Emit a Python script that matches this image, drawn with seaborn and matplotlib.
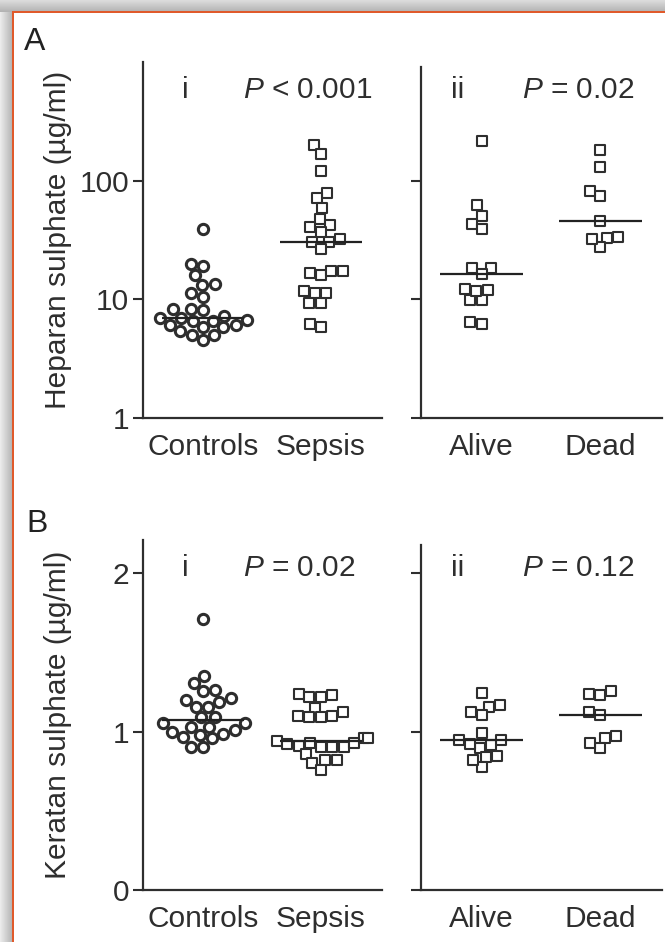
import numpy as np
import pandas as pd
import matplotlib
matplotlib.use("Agg")
import matplotlib.pyplot as plt
import seaborn as sns
from matplotlib.patches import Rectangle
from matplotlib.ticker import NullLocator

# ---------------- data ----------------
groups_i = ["Controls", "Sepsis"]
groups_ii = ["Alive", "Dead"]

hs_controls = [39, 19, 19.7, 15.9, 13.2, 13.4, 10.5, 11.2, 8.3, 8.1, 8.3, 6.7,
               7.3, 6.6, 6.1, 5.8, 5.8, 6.1, 5.0, 5.0, 5.4, 4.5, 6.6, 6.9, 7.0]
hs_sepsis = [199, 169, 121, 78.7, 70.8, 58.7, 47.7, 42.4, 40.5, 37.2, 32.2, 30.2,
             30.5, 26.5, 17.4, 16.0, 16.8, 17.2, 11.3, 9.4, 9.4, 11.3, 11.7, 5.9, 6.2]
hs_alive = [214, 61.8, 50.8, 43.2, 39, 18.4, 18.4, 16.5, 11.9, 9.8, 9.8, 11.8,
            12.2, 6.2, 6.4]
hs_dead = [183, 130.6, 74, 82, 45.8, 32.9, 27.7, 32.2, 33.7]

ks_controls = [1.71, 1.31, 1.354, 1.262, 1.258, 1.186, 1.213, 1.199, 1.153, 1.157,
               1.093, 1.09, 1.052, 1.027, 1.03, 1.052, 0.984, 0.957, 1.009, 0.978,
               0.963, 0.904, 0.904, 1.0]
ks_sepsis = [1.24, 1.22, 1.22, 1.23, 1.10, 1.125, 1.15, 1.09, 1.09, 1.10, 0.94,
             0.91, 0.96, 0.905, 0.905, 0.93, 0.905, 0.96, 0.92, 0.82, 0.86, 0.80,
             0.82, 0.757, 0.93]
ks_alive = [1.247, 1.157, 1.104, 1.125, 1.171, 0.992, 0.946, 0.915, 0.946, 0.894,
            0.925, 0.837, 0.774, 0.82, 0.845]
ks_dead = [1.258, 1.235, 1.23, 1.125, 1.104, 0.957, 0.894, 0.929, 0.972]

p_values = {"Ai": "< 0.001", "Aii": "= 0.02", "Bi": "= 0.02", "Bii": "= 0.12"}
hs_ticks = [1, 10, 100]
ks_ticks = [0, 1, 2]

# ---------------- style ----------------
sns.set_theme(style="ticks")
plt.rcParams["font.family"] = ["Liberation Sans", "DejaVu Sans"]
plt.rcParams["mathtext.fontset"] = "custom"
plt.rcParams["mathtext.it"] = "Liberation Sans:italic"
plt.rcParams["mathtext.rm"] = "Liberation Sans"

INK = "#2e2e2e"
FS = 21.5
W, H = 665, 942

fig = plt.figure(figsize=(W / 100, H / 100), dpi=100)
fig.patch.set_facecolor("white")


def add_ax(l, t, r, b):
    return fig.add_axes([l / W, 1 - b / H, (r - l) / W, (b - t) / H])


axAi = add_ax(143, 62, 382, 418)
axAii = add_ax(421, 62, 662, 418)
axBi = add_ax(143, 540, 382, 890)
axBii = add_ax(421, 540, 662, 890)

LAYOUT_SIZE = 6.3


def swarm(ax, vals, cat, order, marker, lw):
    df = pd.DataFrame({"group": [cat] * len(vals), "value": vals})
    sns.swarmplot(data=df, x="group", y="value", order=order, ax=ax,
                  marker=marker, size=LAYOUT_SIZE, color="white",
                  edgecolor=INK, linewidth=lw)


def medians(ax, data_by_group, order):
    for i, g in enumerate(order):
        m = float(np.median(data_by_group[g]))
        ax.hlines(m, i - 0.35, i + 0.35, color="#222222", lw=1.6, zorder=5)


for ax in (axAi, axAii):
    ax.set_yscale("log")

swarm(axAi, hs_controls, "Controls", groups_i, "o", 2.2)
swarm(axAi, hs_sepsis, "Sepsis", groups_i, "s", 1.5)
swarm(axAii, hs_alive, "Alive", groups_ii, "s", 1.5)
swarm(axAii, hs_dead, "Dead", groups_ii, "s", 1.5)
swarm(axBi, ks_controls, "Controls", groups_i, "o", 2.2)
swarm(axBi, ks_sepsis, "Sepsis", groups_i, "s", 1.5)
swarm(axBii, ks_alive, "Alive", groups_ii, "s", 1.5)
swarm(axBii, ks_dead, "Dead", groups_ii, "s", 1.5)

medians(axAi, {"Controls": hs_controls, "Sepsis": hs_sepsis}, groups_i)
medians(axAii, {"Alive": hs_alive, "Dead": hs_dead}, groups_ii)
medians(axBi, {"Controls": ks_controls, "Sepsis": ks_sepsis}, groups_i)
medians(axBii, {"Alive": ks_alive, "Dead": ks_dead}, groups_ii)

for ax in (axAi, axAii):
    ax.set_ylim(1, 1000)
    ax.set_yticks(hs_ticks)
    ax.yaxis.set_minor_locator(NullLocator())
for ax in (axBi, axBii):
    ax.set_ylim(0, 2.21)
    ax.set_yticks(ks_ticks)

axAi.set_yticklabels([str(t) for t in hs_ticks])
axBi.set_yticklabels([str(t) for t in ks_ticks])
axAii.set_yticklabels([])
axBii.set_yticklabels([])
axAii.spines["left"].set_bounds(1, 900)
axBii.spines["left"].set_bounds(0, 2.18)

for ax in (axAi, axAii, axBi, axBii):
    ax.set_xlim(-0.51, 1.52)
    ax.set_xlabel("")
    ax.set_ylabel("")
    ax.set_facecolor("none")
    for s in ("top", "right"):
        ax.spines[s].set_visible(False)
    for s in ("left", "bottom"):
        ax.spines[s].set_color(INK)
        ax.spines[s].set_linewidth(1.6)
    ax.tick_params(axis="y", direction="out", length=7, width=1.5, color=INK,
                   labelsize=FS, labelcolor=INK, pad=3)
    ax.tick_params(axis="x", length=0, labelsize=FS, labelcolor=INK, pad=11)

# panel annotations
for ax, num, key in ((axAi, "i", "Ai"), (axAii, "ii", "Aii"),
                     (axBi, "i", "Bi"), (axBii, "ii", "Bii")):
    x0 = 0.176 if num == "i" else 0.154
    xp = 0.418 if num == "i" else 0.419
    ax.text(x0, 0.921, num, transform=ax.transAxes, ha="center", va="center",
            fontsize=FS, color=INK)
    ax.text(xp, 0.921, r"$\mathit{P}$ " + p_values[key], transform=ax.transAxes,
            ha="left", va="center", fontsize=FS, color=INK)

fig.text(58 / W, 1 - 240 / H, "Heparan sulphate (µg/ml)", rotation=90,
         ha="center", va="center", fontsize=FS, color=INK)
fig.text(58 / W, 1 - 715 / H, "Keratan sulphate (µg/ml)", rotation=90,
         ha="center", va="center", fontsize=FS, color=INK)
fig.text(24 / W, 1 - 50 / H, "A", fontsize=23, color="#222222", va="baseline")
fig.text(26 / W, 1 - 532 / H, "B", fontsize=23, color="#222222", va="baseline")

# frame with shadow
def px_rect(x, y, w, h, **kw):
    fig.patches.append(Rectangle((x / W, 1 - (y + h) / H), w / W, h / H,
                                 transform=fig.transFigure, figure=fig, **kw))

for k in range(12):
    g = 0.86 - 0.16 * k / 11
    px_rect(0, k, W, 1, color=(g, g, g), lw=0, zorder=0)
for k in range(13):
    g = 0.92 - 0.22 * k / 12
    px_rect(k, 12, 1, H, color=(g, g, g), lw=0, zorder=0)
px_rect(12, 11, W, 2, color="#e05a2b", lw=0, zorder=1)
px_rect(12, 11, 2, H, color="#e05a2b", lw=0, zorder=1)

# compute swarm layout with the layout size, then freeze and enlarge markers
fig.canvas.draw()
for ax in (axAi, axAii, axBi, axBii):
    for coll in ax.collections:
        if "draw" in coll.__dict__:
            del coll.draw
            coll.set_sizes([7.4 ** 2])

fig.savefig("out.png", dpi=100)
